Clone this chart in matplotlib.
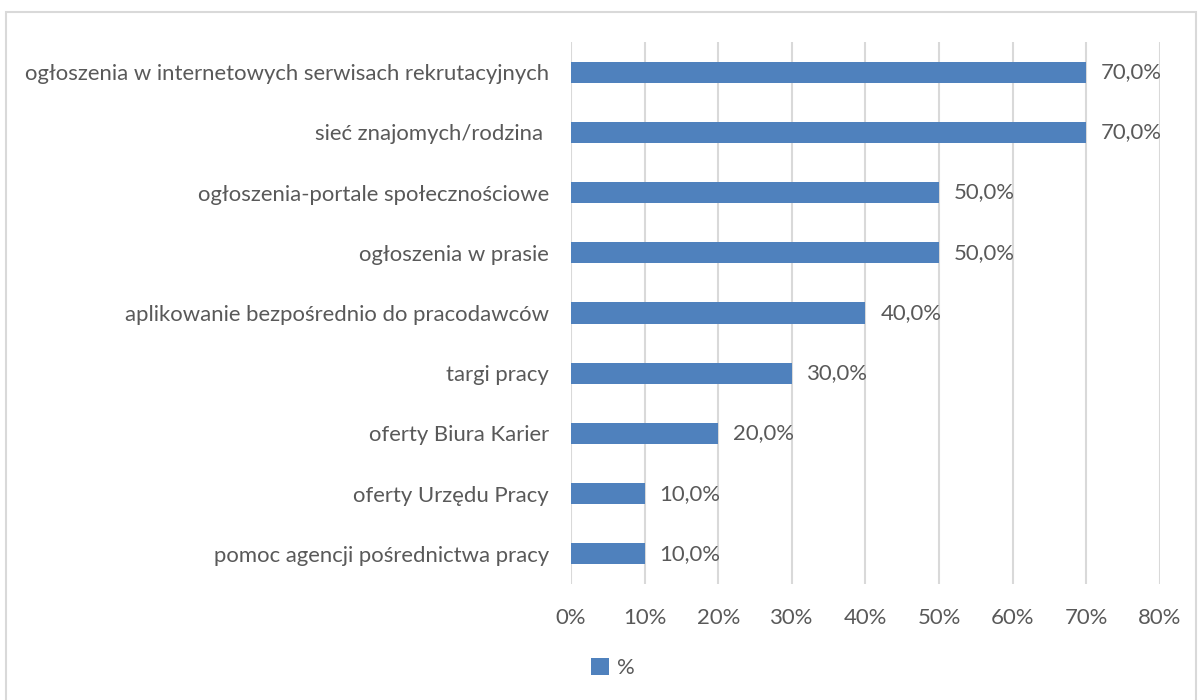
import matplotlib
matplotlib.use("Agg")
import matplotlib.pyplot as plt
from matplotlib.patches import Rectangle, Patch

categories = [
    "ogłoszenia w internetowych serwisach rekrutacyjnych",
    "sieć znajomych/rodzina ",
    "ogłoszenia-portale społecznościowe",
    "ogłoszenia w prasie",
    "aplikowanie bezpośrednio do pracodawców",
    "targi pracy",
    "oferty Biura Karier",
    "oferty Urzędu Pracy",
    "pomoc agencji pośrednictwa pracy",
]
values = [70.0, 70.0, 50.0, 50.0, 40.0, 30.0, 20.0, 10.0, 10.0]
xticks = [0, 10, 20, 30, 40, 50, 60, 70, 80]
xtick_labels = ["0%", "10%", "20%", "30%", "40%", "50%", "60%", "70%", "80%"]
series_name = "%"

plt.rcParams['font.family'] = ['Lato', 'DejaVu Sans']
TXT = "#595959"
BAR = "#4F81BD"
GRID = "#D9D9D9"
FS = 15.9

W, H = 1198, 700
fig = plt.figure(figsize=(W / 100, H / 100), dpi=100)
ax = fig.add_axes([571 / W, (H - 584) / H, (1160 - 571) / W, (584 - 42) / H])

n = len(categories)
ypos = list(range(n))[::-1]
ax.barh(ypos, values, height=0.35, color=BAR, zorder=3)
for y, v in zip(ypos, values):
    ax.text(v + 2.0, y, f"{v:.1f}%".replace(".", ","), va="center", ha="left",
            fontsize=FS, color=TXT)

ax.set_xlim(0, 80)
ax.set_ylim(-0.5, n - 0.5)
ax.set_xticks(xticks)
ax.set_xticklabels(xtick_labels, fontsize=FS, color=TXT)
ax.set_yticks(ypos)
ax.set_yticklabels(categories, fontsize=FS, color=TXT)
ax.tick_params(axis="both", length=0)
ax.tick_params(axis="y", pad=16)
ax.tick_params(axis="x", pad=17)
ax.grid(axis="x", color=GRID, linewidth=1.5, zorder=0)
for s in ax.spines.values():
    s.set_visible(False)

handle = Patch(facecolor=BAR, edgecolor="none")
fig.legend([handle], [series_name], loc="center", bbox_to_anchor=(613 / W, (H - 668) / H),
           frameon=False, fontsize=FS, labelcolor=TXT, handlelength=0.8, handleheight=0.8,
           handletextpad=0.4)

fig.patches.append(Rectangle((6 / W, -0.01), (1196 - 6) / W, (H - 12) / H + 0.01,
                             transform=fig.transFigure, fill=False, edgecolor=GRID,
                             linewidth=1.5))

fig.savefig("out.png", dpi=100)
